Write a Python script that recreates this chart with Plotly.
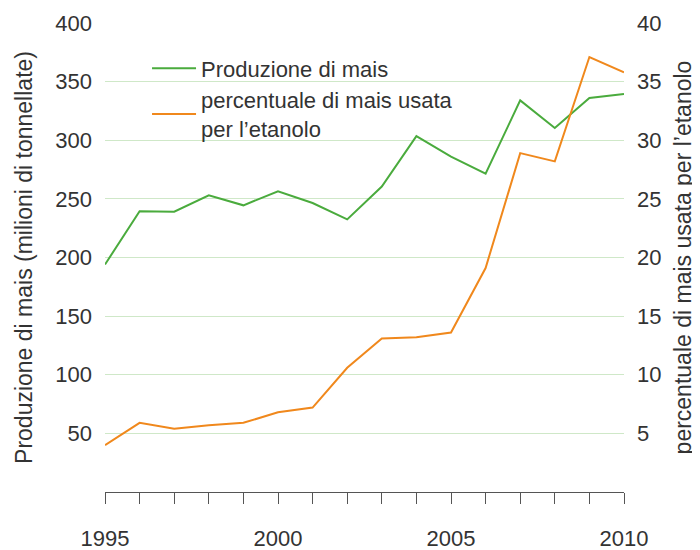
import plotly.graph_objects as go

# anni
anni = list(range(1995, 2011))

# produzione di mais (milioni di tonnellate)
produzione = [194, 239.5, 239, 253, 244.5, 256.5, 246.5, 232.5,
              260.5, 303.5, 286, 271.5, 334, 310.5, 336, 339.5]

# percentuale di mais usata per l'etanolo
percentuale = [4.0, 5.9, 5.4, 5.7, 5.9, 6.8, 7.2, 10.6,
               13.1, 13.2, 13.6, 19.1, 28.9, 28.2, 37.1, 35.8]

tick_sx = [50, 100, 150, 200, 250, 300, 350, 400]
tick_dx = [5, 10, 15, 20, 25, 30, 35, 40]

verde = "#4aab3d"
arancio = "#f0881c"
griglia = "#cfe8c8"
testo = "#333333"
font = "Liberation Sans"

fig = go.Figure()
fig.add_trace(go.Scatter(x=anni, y=produzione, mode="lines",
                         name="Produzione di mais",
                         line=dict(color=verde, width=2)))
fig.add_trace(go.Scatter(x=anni, y=percentuale, mode="lines",
                         name="percentuale di mais usata<br>per l\u2019etanolo",
                         line=dict(color=arancio, width=2), yaxis="y2"))

# fondo bianco dietro la legenda (copre la griglia, non le linee)
fig.add_shape(type="rect", xref="paper", yref="y", x0=0.062, x1=0.744,
              y0=335, y1=365, fillcolor="white", line_width=0, layer="between")

# la pagina ha 8px di margine nel body
fig.update_layout(
    width=692, height=542,
    margin=dict(l=97, r=76, t=15, b=58, autoexpand=False),
    plot_bgcolor="white", paper_bgcolor="white",
    font=dict(family=font, size=22, color=testo),
    showlegend=True,
    legend=dict(x=0.081, y=0.948, xanchor="left", yanchor="top",
                bgcolor="rgba(0,0,0,0)", font=dict(size=22, color=testo),
                itemwidth=44),
    xaxis=dict(range=[1995, 2010], tickvals=anni,
               ticktext=[str(a) if a % 5 == 0 else "" for a in anni],
               ticks="outside", ticklen=11, tickcolor="#555555",
               showline=True, linecolor="#555555", linewidth=1,
               showgrid=False, zeroline=False, ticklabelstandoff=16,
               automargin=False),
    yaxis=dict(range=[0, 400], tickvals=tick_sx, showgrid=True,
               gridcolor=griglia, gridwidth=1, zeroline=False,
               ticklabelstandoff=12, automargin=False,
               title=dict(text="Produzione di mais (milioni di tonnellate)",
                          font=dict(size=23), standoff=16)),
    yaxis2=dict(range=[0, 40], tickvals=tick_dx, overlaying="y", side="right",
                showgrid=False, zeroline=False, ticklabelstandoff=12,
                automargin=False,
                title=dict(text="percentuale di mais usata per l\u2019etanolo",
                           font=dict(size=23), standoff=14)),
)

fig.write_html("out.html")
